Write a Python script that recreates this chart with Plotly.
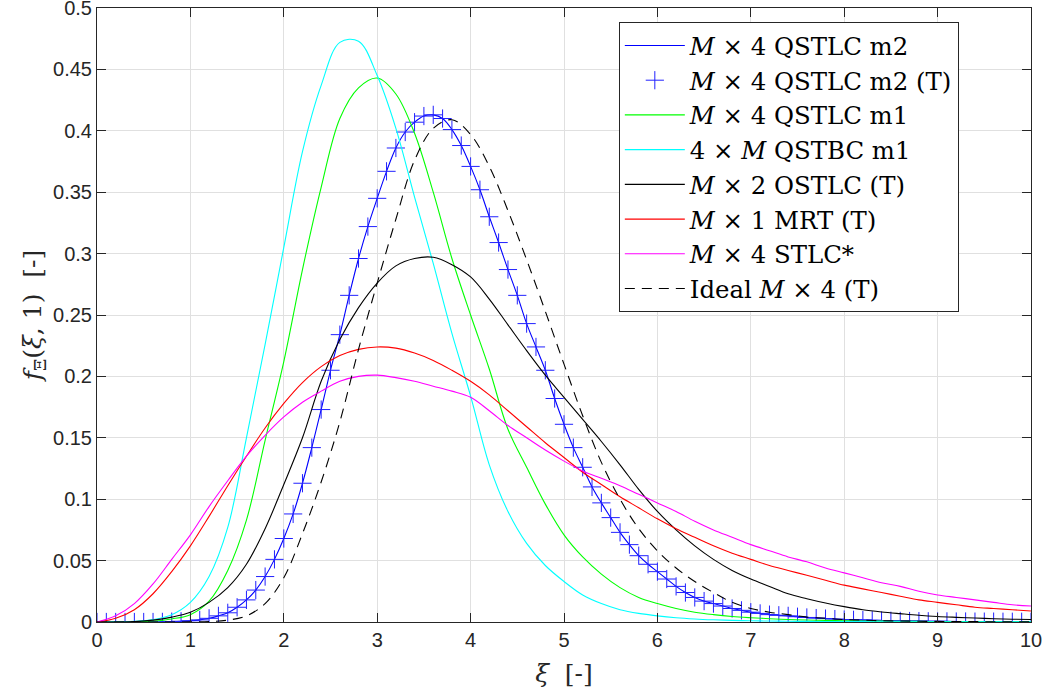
import plotly.graph_objects as go

# x grids
xi_coarse = [round(i * 0.2, 1) for i in range(51)]
xi_fine = [round(i * 0.1, 1) for i in range(101)]

# tick values / labels
x_ticks = [0, 1, 2, 3, 4, 5, 6, 7, 8, 9, 10]
y_ticks = [0, 0.05, 0.1, 0.15, 0.2, 0.25, 0.3, 0.35, 0.4, 0.45, 0.5]
y_tick_labels = ["0", "0.05", "0.1", "0.15", "0.2", "0.25", "0.3", "0.35", "0.4", "0.45", "0.5"]

# M x 4 QSTLC m2 (simulated line + theoretical markers), step 0.1
qstlc_m2 = [
    0, 0, 0, 0, 0, 0, 0, 0.0001, 0.0003, 0.0006,
    0.001, 0.0017, 0.003, 0.005, 0.0075, 0.012, 0.018, 0.026, 0.037, 0.051,
    0.068, 0.088, 0.113, 0.142, 0.173, 0.205, 0.234, 0.266, 0.296, 0.322,
    0.345, 0.367, 0.386, 0.399, 0.407, 0.412, 0.413, 0.410, 0.401, 0.388,
    0.371, 0.352, 0.330, 0.309, 0.287, 0.266, 0.243, 0.224, 0.205, 0.182,
    0.161, 0.142, 0.126, 0.110, 0.097, 0.085, 0.073, 0.063, 0.054, 0.047,
    0.041, 0.035, 0.029, 0.024, 0.020, 0.017, 0.015, 0.013, 0.011, 0.0095,
    0.008, 0.007, 0.006, 0.0055, 0.005, 0.0043, 0.0037, 0.0032, 0.0028, 0.0024,
    0.002, 0.0018, 0.0016, 0.0014, 0.0012, 0.001, 0.0009, 0.0008, 0.0007, 0.0006,
    0.0005, 0.0005, 0.0004, 0.0004, 0.0003, 0.0003, 0.0003, 0.0002, 0.0002, 0.0002, 0.0002,
]

# step 0.2 series
qstlc_m1 = [
    0, 0, 0.0002, 0.0008, 0.0025, 0.006, 0.017, 0.042, 0.083, 0.148,
    0.212, 0.287, 0.354, 0.410, 0.435, 0.443, 0.430, 0.398, 0.350, 0.296,
    0.250, 0.206, 0.157, 0.126, 0.096, 0.071, 0.053, 0.039, 0.028, 0.020,
    0.015, 0.011, 0.008, 0.006, 0.0045, 0.0035, 0.0027, 0.002, 0.0016, 0.0013,
    0.001, 0.0008, 0.0007, 0.0006, 0.0005, 0.0004, 0.0003, 0.0003, 0.0002, 0.0002, 0.0002,
]
qstbc_m1 = [
    0, 0, 0.0005, 0.002, 0.006, 0.016, 0.037, 0.077, 0.150, 0.226,
    0.305, 0.383, 0.437, 0.472, 0.473, 0.445, 0.402, 0.346, 0.292, 0.235,
    0.184, 0.128, 0.090, 0.064, 0.046, 0.033, 0.022, 0.015, 0.010, 0.007,
    0.005, 0.0035, 0.0025, 0.0018, 0.0013, 0.001, 0.0008, 0.0006, 0.0005, 0.0004,
    0.0003, 0.0003, 0.0002, 0.0002, 0.0002, 0.0001, 0.0001, 0.0001, 0.0001, 0.0001, 0.0001,
]
ostlc_m2 = [
    0, 0, 0.0003, 0.0015, 0.004, 0.008, 0.016, 0.028, 0.047, 0.076,
    0.112, 0.150, 0.196, 0.230, 0.256, 0.276, 0.290, 0.296, 0.297, 0.291,
    0.281, 0.263, 0.242, 0.221, 0.201, 0.183, 0.165, 0.147, 0.128, 0.108,
    0.090, 0.075, 0.062, 0.051, 0.042, 0.035, 0.029, 0.023, 0.019, 0.0155,
    0.0125, 0.010, 0.0082, 0.0068, 0.0055, 0.0045, 0.0038, 0.0032, 0.0027, 0.0023, 0.002,
]
mrt_m1 = [
    0, 0.003, 0.010, 0.023, 0.041, 0.062, 0.086, 0.111, 0.135, 0.158,
    0.178, 0.195, 0.208, 0.217, 0.222, 0.224, 0.223, 0.219, 0.213, 0.205,
    0.196, 0.185, 0.172, 0.159, 0.146, 0.134, 0.122, 0.112, 0.102, 0.093,
    0.084, 0.076, 0.069, 0.062, 0.056, 0.051, 0.046, 0.042, 0.038, 0.034,
    0.030, 0.027, 0.024, 0.021, 0.018, 0.016, 0.014, 0.012, 0.011, 0.010, 0.009,
]
stlc_m4 = [
    0, 0.005, 0.015, 0.031, 0.051, 0.071, 0.094, 0.115, 0.135, 0.152,
    0.167, 0.179, 0.188, 0.196, 0.200, 0.201, 0.199, 0.196, 0.192, 0.188,
    0.183, 0.172, 0.160, 0.150, 0.140, 0.131, 0.123, 0.117, 0.111, 0.104,
    0.097, 0.090, 0.082, 0.075, 0.069, 0.063, 0.058, 0.053, 0.049, 0.044,
    0.040, 0.036, 0.032, 0.029, 0.025, 0.022, 0.020, 0.018, 0.016, 0.014, 0.013,
]
ideal_m4 = [
    0, 0, 0, 0, 0, 0.0001, 0.0004, 0.0015, 0.005, 0.015,
    0.036, 0.072, 0.114, 0.163, 0.222, 0.276, 0.328, 0.376, 0.402, 0.409,
    0.397, 0.371, 0.335, 0.295, 0.253, 0.210, 0.168, 0.130, 0.100, 0.076,
    0.058, 0.044, 0.033, 0.024, 0.016, 0.011, 0.008, 0.006, 0.004, 0.003,
    0.002, 0.0015, 0.001, 0.0008, 0.0006, 0.0005, 0.0004, 0.0003, 0.0002, 0.0002, 0.0001,
]

names = [
    "<i>M</i> × 4 QSTLC m2",
    "<i>M</i> × 4 QSTLC m2 (T)",
    "<i>M</i> × 4 QSTLC m1",
    "4 × <i>M</i> QSTBC m1",
    "<i>M</i> × 2 OSTLC (T)",
    "<i>M</i> × 1 MRT (T)",
    "<i>M</i> × 4 STLC*",
    "Ideal <i>M</i> × 4 (T)",
]

fig = go.Figure()
lw = 1.1
fig.add_trace(go.Scatter(x=xi_fine, y=qstlc_m2, mode="lines", name=names[0],
                         line=dict(color="#0000ff", width=lw, shape="spline")))
fig.add_trace(go.Scatter(x=xi_fine, y=qstlc_m2, mode="markers", name=names[1],
                         marker=dict(symbol="cross-thin", size=13, color="#0000ff",
                                     line=dict(color="#2020ff", width=1))))
fig.add_trace(go.Scatter(x=xi_coarse, y=qstlc_m1, mode="lines", name=names[2],
                         line=dict(color="#00ff00", width=lw, shape="spline")))
fig.add_trace(go.Scatter(x=xi_coarse, y=qstbc_m1, mode="lines", name=names[3],
                         line=dict(color="#00ffff", width=lw, shape="spline")))
fig.add_trace(go.Scatter(x=xi_coarse, y=ostlc_m2, mode="lines", name=names[4],
                         line=dict(color="#000000", width=lw, shape="spline")))
fig.add_trace(go.Scatter(x=xi_coarse, y=mrt_m1, mode="lines", name=names[5],
                         line=dict(color="#ff0000", width=lw, shape="spline")))
fig.add_trace(go.Scatter(x=xi_coarse, y=stlc_m4, mode="lines", name=names[6],
                         line=dict(color="#ff00ff", width=lw, shape="spline")))
fig.add_trace(go.Scatter(x=xi_coarse, y=ideal_m4, mode="lines", name=names[7],
                         line=dict(color="#000000", width=lw, shape="spline", dash="10px,7px")))

axis_col = "#262626"
grid_col = "#e0e0e0"
tick_font = dict(family="Liberation Sans, Arial, sans-serif", size=20, color=axis_col)
title_font = dict(family="DejaVu Serif, Liberation Serif, serif", size=25, color=axis_col)

fig.update_xaxes(range=[0, 10], tickmode="array", tickvals=x_ticks,
                 showgrid=True, gridcolor=grid_col, gridwidth=1,
                 showline=True, linecolor=axis_col, linewidth=1, mirror="ticks",
                 ticks="inside", ticklen=9, tickcolor=axis_col, tickwidth=1,
                 tickfont=tick_font, zeroline=False, automargin=False,
                 ticklabeloverflow="allow",
                 title=dict(text="<i>ξ</i>  [-]", font=title_font, standoff=14))
fig.update_yaxes(range=[0, 0.5], tickmode="array", tickvals=y_ticks, ticktext=y_tick_labels,
                 showgrid=True, gridcolor=grid_col, gridwidth=1,
                 showline=True, linecolor=axis_col, linewidth=1, mirror="ticks",
                 ticks="inside", ticklen=9, tickcolor=axis_col, tickwidth=1,
                 tickfont=tick_font, zeroline=False, automargin=False,
                 ticklabeloverflow="allow",
                 title=dict(text="<i>f</i><sub>Ξ</sub>(<i>ξ</i>, 1)  [-]", font=title_font, standoff=4))

fig.update_layout(
    width=1044, height=699,
    margin=dict(l=97, r=13, t=8, b=77, autoexpand=False),
    paper_bgcolor="white", plot_bgcolor="white",
    showlegend=True,
    legend=dict(x=0.5587, y=0.977, xanchor="left", yanchor="top",
                bgcolor="white", bordercolor=axis_col, borderwidth=1,
                font=dict(family="DejaVu Serif, Liberation Serif, serif", size=24.4, color="#000000"),
                itemwidth=60, traceorder="normal"),
)

fig.write_html("out.html", config={"displayModeBar": False},
               post_script="document.body.style.margin='0';")
